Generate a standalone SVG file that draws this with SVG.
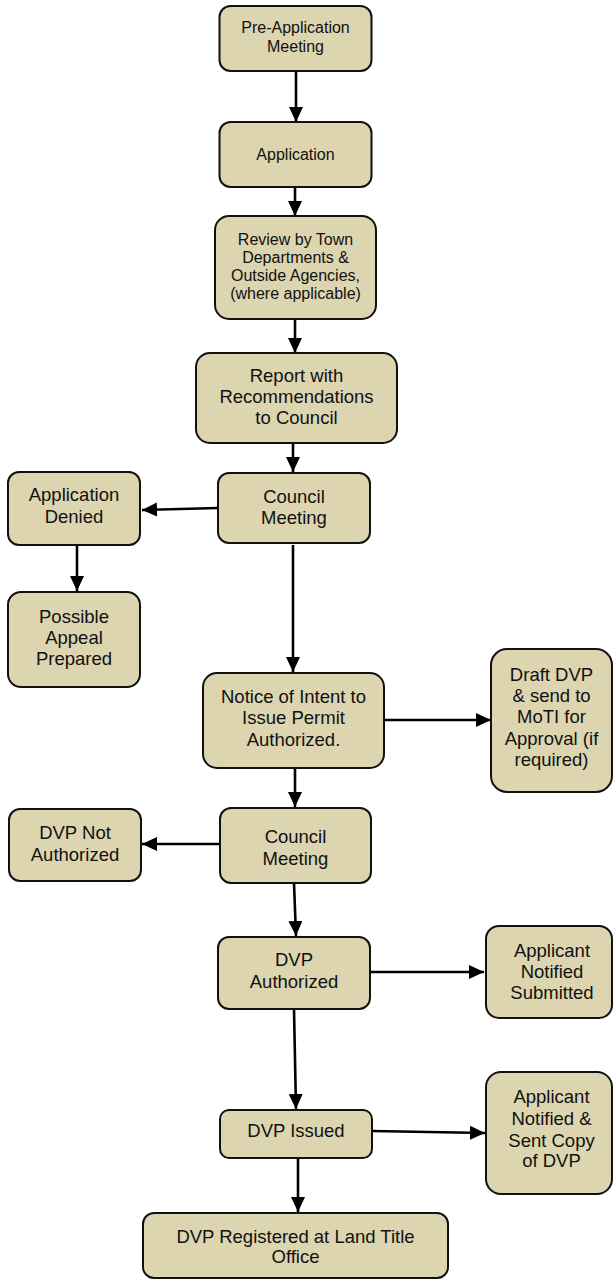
<svg xmlns="http://www.w3.org/2000/svg" width="613" height="1280" viewBox="0 0 613 1280">
<style>
.box{fill:#DCD5B0;stroke:#111;stroke-width:2}
text{font-family:"Liberation Sans",Arial,sans-serif;fill:#111;text-anchor:middle}
.s{font-size:16px}
.m{font-size:18.5px}
.c{stroke:#000;stroke-width:2.6;fill:none;marker-end:url(#ah)}
</style>
<defs>
<marker id="ah" markerUnits="userSpaceOnUse" markerWidth="16" markerHeight="15" refX="15" refY="7" orient="auto">
<path d="M0,0 L15,7 L0,14 z" fill="#000"/>
</marker>
</defs>
<g id="connectors">
<line class="c" x1="296" y1="71" x2="296" y2="122"/>
<line class="c" x1="295" y1="187" x2="295" y2="216"/>
<line class="c" x1="295" y1="319" x2="295" y2="353"/>
<line class="c" x1="293" y1="443" x2="293" y2="472"/>
<line class="c" x1="218" y1="508" x2="142" y2="510"/>
<line class="c" x1="77" y1="545" x2="77" y2="591"/>
<line class="c" x1="293" y1="545" x2="293" y2="672"/>
<line class="c" x1="384" y1="720" x2="491" y2="720"/>
<line class="c" x1="295" y1="768" x2="295" y2="807"/>
<line class="c" x1="220" y1="844" x2="142" y2="844"/>
<line class="c" x1="294" y1="883" x2="296" y2="936"/>
<line class="c" x1="370" y1="972" x2="484" y2="972"/>
<line class="c" x1="294" y1="1009" x2="296" y2="1109"/>
<line class="c" x1="372" y1="1131" x2="485" y2="1133"/>
<line class="c" x1="298" y1="1158" x2="298" y2="1212"/>
</g>
<g id="n1"><rect class="box" x="219.5" y="6" width="152" height="65" rx="11"/>
<text class="s" x="295.5" y="33">Pre-Application</text><text class="s" x="295.5" y="52">Meeting</text></g>
<g id="n2"><rect class="box" x="219.5" y="122" width="152" height="65" rx="11"/>
<text class="s" x="295.5" y="160">Application</text></g>
<g id="n3"><rect class="box" x="215" y="216" width="161" height="103" rx="14"/>
<text class="s" x="295.5" y="245">Review by Town</text><text class="s" x="295.5" y="263">Departments &amp;</text><text class="s" x="295.5" y="281">Outside Agencies,</text><text class="s" x="295.5" y="299">(where applicable)</text></g>
<g id="n4"><rect class="box" x="196" y="353" width="201" height="90" rx="14"/>
<text class="m" x="296.5" y="382">Report with</text><text class="m" x="296.5" y="403">Recommendations</text><text class="m" x="296.5" y="424">to Council</text></g>
<g id="n5"><rect class="box" x="218" y="473" width="152" height="70" rx="11"/>
<text class="m" x="294" y="503">Council</text><text class="m" x="294" y="524">Meeting</text></g>
<g id="n6"><rect class="box" x="8" y="472" width="132" height="73" rx="11"/>
<text class="m" x="74" y="501">Application</text><text class="m" x="74" y="523">Denied</text></g>
<g id="n7"><rect class="box" x="8" y="592" width="132" height="95" rx="13"/>
<text class="m" x="74" y="623">Possible</text><text class="m" x="74" y="644">Appeal</text><text class="m" x="74" y="665">Prepared</text></g>
<g id="n8"><rect class="box" x="203" y="673" width="181" height="95" rx="14"/>
<text class="m" x="293.5" y="703">Notice of Intent to</text><text class="m" x="293.5" y="724">Issue Permit</text><text class="m" x="293.5" y="746">Authorized.</text></g>
<g id="n9"><rect class="box" x="491" y="649" width="121" height="143" rx="16"/>
<text class="m" x="551.5" y="681">Draft DVP</text><text class="m" x="551.5" y="702">&amp; send to</text><text class="m" x="551.5" y="723">MoTI for</text><text class="m" x="551.5" y="745">Approval (if</text><text class="m" x="551.5" y="766">required)</text></g>
<g id="n10"><rect class="box" x="220" y="808" width="151" height="75" rx="11"/>
<text class="m" x="295.5" y="843">Council</text><text class="m" x="295.5" y="865">Meeting</text></g>
<g id="n11"><rect class="box" x="9" y="809" width="132" height="72" rx="11"/>
<text class="m" x="75" y="839">DVP Not</text><text class="m" x="75" y="861">Authorized</text></g>
<g id="n12"><rect class="box" x="218" y="937" width="152" height="72" rx="11"/>
<text class="m" x="294" y="966">DVP</text><text class="m" x="294" y="988">Authorized</text></g>
<g id="n13"><rect class="box" x="486" y="926" width="126" height="92" rx="13"/>
<text class="m" x="552" y="957">Applicant</text><text class="m" x="552" y="978">Notified</text><text class="m" x="552" y="999">Submitted</text></g>
<g id="n14"><rect class="box" x="220" y="1110" width="152" height="48" rx="9"/>
<text class="m" x="296" y="1137">DVP Issued</text></g>
<g id="n15"><rect class="box" x="486" y="1072" width="126" height="122" rx="15"/>
<text class="m" x="551.5" y="1103">Applicant</text><text class="m" x="551.5" y="1125">Notified &amp;</text><text class="m" x="551.5" y="1147">Sent Copy</text><text class="m" x="551.5" y="1167">of DVP</text></g>
<g id="n16"><rect class="box" x="143" y="1213" width="305" height="65" rx="11"/>
<text class="m" x="295.5" y="1243">DVP Registered at Land Title</text><text class="m" x="295.5" y="1263">Office</text></g>
</svg>
